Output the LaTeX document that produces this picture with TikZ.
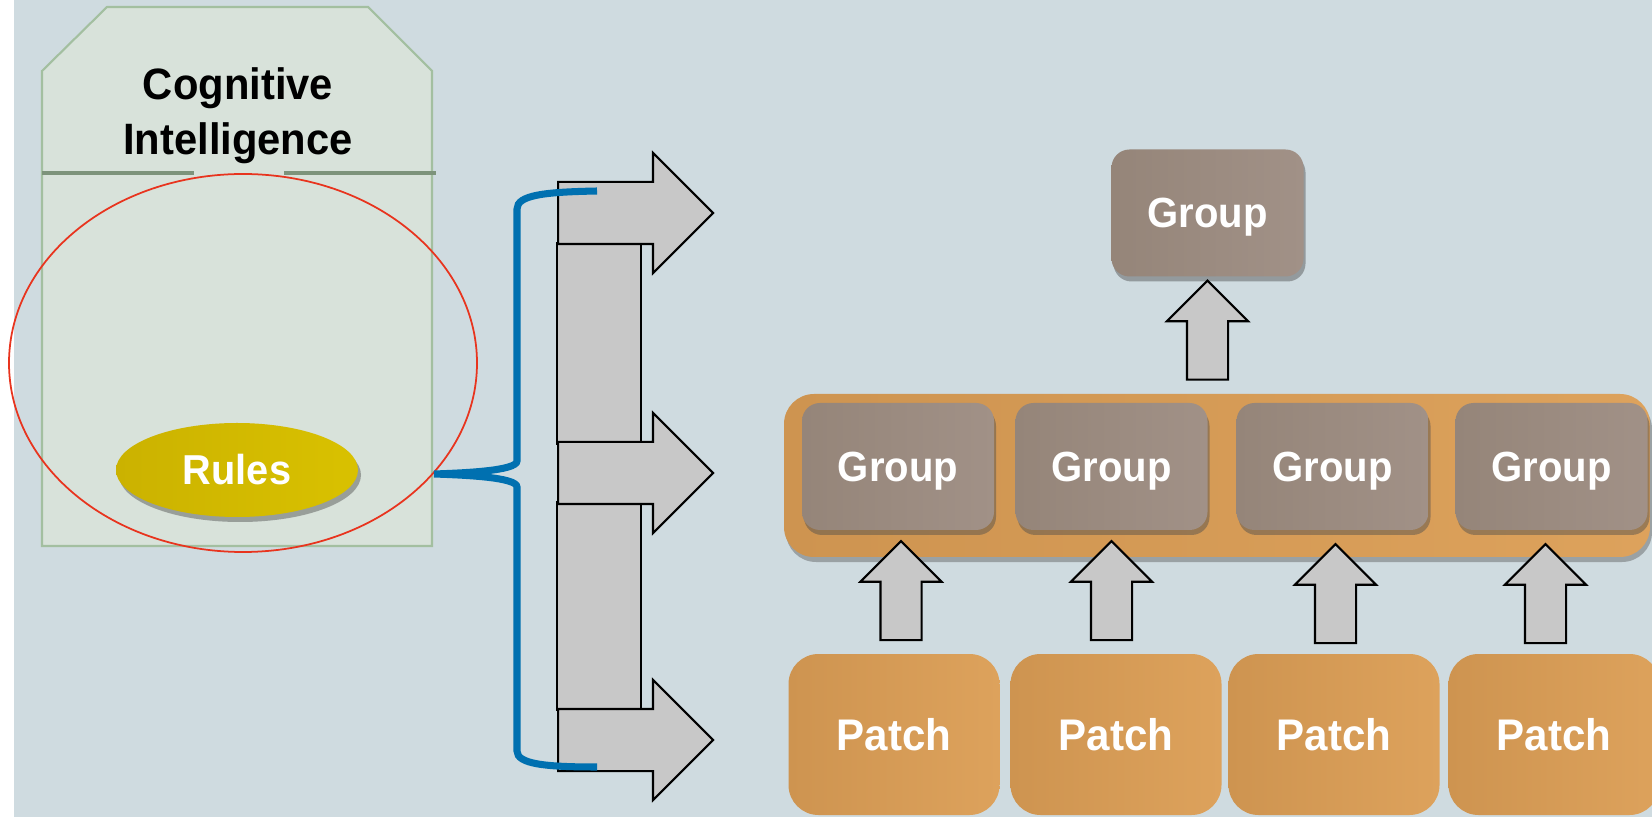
\documentclass[tikz,border=0pt]{standalone}
\usepackage{fontspec}
\setmainfont{Liberation Sans}[FakeStretch=0.95]
\usetikzlibrary{shapes.geometric,shapes.arrows,shadows,calc}

\definecolor{slate}{RGB}{207,219,224}
\definecolor{sage}{RGB}{216,226,218}
\definecolor{sageedge}{RGB}{163,191,160}
\definecolor{sagerule}{RGB}{125,147,123}
\definecolor{ringred}{RGB}{232,52,30}
\definecolor{goldA}{RGB}{203,178,0}
\definecolor{goldB}{RGB}{217,193,0}
\definecolor{braceblue}{RGB}{0,112,176}
\definecolor{arrowgray}{RGB}{200,200,200}
\definecolor{taupeA}{RGB}{149,133,121}
\definecolor{taupeB}{RGB}{161,145,135}
\definecolor{ochreA}{RGB}{206,148,80}
\definecolor{ochreB}{RGB}{221,162,92}

\tikzset{
  panel/.style={fill=sage, draw=sageedge, line width=0.6pt},
  divider/.style={draw=sagerule, line width=0.9pt},
  title/.style={align=center, text=black, font=\bfseries\fontsize{12.5}{15.6}\selectfont},
  ring/.style={ellipse, draw=ringred, line width=0.5pt, inner sep=0pt,
    minimum width=4.68cm, minimum height=3.78cm},
  rules/.style={ellipse, left color=goldA, right color=goldB, text=white,
    font=\bfseries\fontsize{11.9}{14}\selectfont, minimum width=2.42cm, minimum height=0.94cm,
    drop shadow={shadow xshift=0.03cm, shadow yshift=-0.05cm, opacity=0.45, fill=black!70}},
  bar/.style={fill=arrowgray, draw=black, line width=0.6pt},
  % shaft width comes from inner ysep (twice), head from the extend
  outarrow/.style={single arrow, fill=arrowgray, draw=black, line width=0.6pt,
    inner xsep=0pt, inner ysep=0.3cm, minimum height=1.55cm,
    single arrow head extend=0.29cm, anchor=tail},
  uparrow/.style={single arrow, fill=arrowgray, draw=black, line width=0.6pt,
    inner xsep=0pt, inner ysep=0.195cm, rotate=90, minimum height=0.99cm,
    single arrow head extend=0.2cm, anchor=tip},
  brace/.style={draw=braceblue, line width=2pt},
  band/.style={rounded corners=0.3cm, left color=ochreA, right color=ochreB,
    minimum width=8.66cm, minimum height=1.63cm,
    drop shadow={shadow xshift=0.02cm, shadow yshift=-0.05cm, opacity=0.4, fill=black!70}},
  grp/.style={rounded corners=0.18cm, left color=taupeA, right color=taupeB, text=white,
    font=\bfseries\fontsize{12}{14}\selectfont, text depth=0pt,
    minimum width=1.92cm, minimum height=1.27cm,
    drop shadow={shadow xshift=0.02cm, shadow yshift=-0.05cm, opacity=0.45, fill=black!70}},
  patchbox/.style={rounded corners=0.3cm, left color=ochreA, right color=ochreB, text=white,
    font=\bfseries\fontsize{12.6}{14}\selectfont, text depth=0pt,
    minimum width=2.11cm, minimum height=1.61cm},
}

\begin{document}
\begin{tikzpicture}
    % Canvas with the white strip on the left
    \useasboundingbox (0,0) rectangle (16.52,8.17);
    \clip (0,0) rectangle (16.52,8.17);
    \fill[slate] (0,0) rectangle (16.52,8.17);
    \fill[white] (0,0) rectangle (0.14,8.17);

    % Cognitive Intelligence panel
    \draw[panel] (0.42,2.71) -- (0.42,7.46) -- (1.07,8.10) -- (3.68,8.10)
        -- (4.32,7.46) -- (4.32,2.71) -- cycle;
    \draw[divider] (0.42,6.44) -- (1.94,6.44);
    \draw[divider] (2.84,6.44) -- (4.36,6.44);
    \node[title] (cog) at (2.38,7.01) {Cognitive\\Intelligence};

    % Focus ring with the rules
    \node[ring] (focus) at (2.43,4.54) {};
    \node[rules] (rules) at (2.37,3.47) {Rules};

    % Bars and the three outgoing arrows
    \draw[bar] (5.57,5.74) rectangle (6.41,3.73);
    \draw[bar] (5.57,3.15) rectangle (6.41,1.07);
    \node[outarrow] (outA) at (5.57,6.04) {};
    \node[outarrow] (outB) at (5.57,3.44) {};
    \node[outarrow] (outC) at (5.57,0.77) {};

    % Brace from the panel
    \coordinate (tip) at (4.34,3.43);
    \coordinate (braceTop) at (5.97,6.26);
    \coordinate (braceBot) at (5.97,0.50);
    \draw[brace] (braceTop) .. controls (5.45,6.25) and (5.17,6.22) .. (5.17,6.08)
        -- (5.17,3.56) .. controls (5.17,3.46) and (4.62,3.44) .. (tip)
        .. controls (4.62,3.42) and (5.17,3.40) .. (5.17,3.30)
        -- (5.17,0.66) .. controls (5.17,0.53) and (5.45,0.50) .. (braceBot);

    % Group row on the band, and the group above it
    \node[band] (band) at (12.17,3.415) {};
    \node[grp] (g1) at (8.98,3.505) {Group};
    \node[grp] (g2) at (11.115,3.505) {Group};
    \node[grp] (g3) at (13.325,3.505) {Group};
    \node[grp] (g4) at (15.515,3.505) {Group};
    \node[grp] (gtop) at (12.075,6.04) {Group};

    % Patches
    \node[patchbox] (p1) at (8.94,0.825) {Patch};
    \node[patchbox] (p2) at (11.16,0.825) {Patch};
    \node[patchbox] (p3) at (13.34,0.825) {Patch};
    \node[patchbox] (p4) at (15.54,0.825) {Patch};

    % Arrows up: patches to groups, band to top group
    \node[uparrow] (a1) at ($(g1.south)+(0.03,-0.09)$) {};
    \node[uparrow] (a2) at ($(g2.south)+(0,-0.09)$) {};
    \node[uparrow] (a3) at ($(g3.south)+(0.03,-0.12)$) {};
    \node[uparrow] (a4) at ($(g4.south)+(-0.06,-0.12)$) {};
    \node[uparrow] (atop) at ($(gtop.south)+(0,-0.02)$) {};
\end{tikzpicture}
\end{document}
